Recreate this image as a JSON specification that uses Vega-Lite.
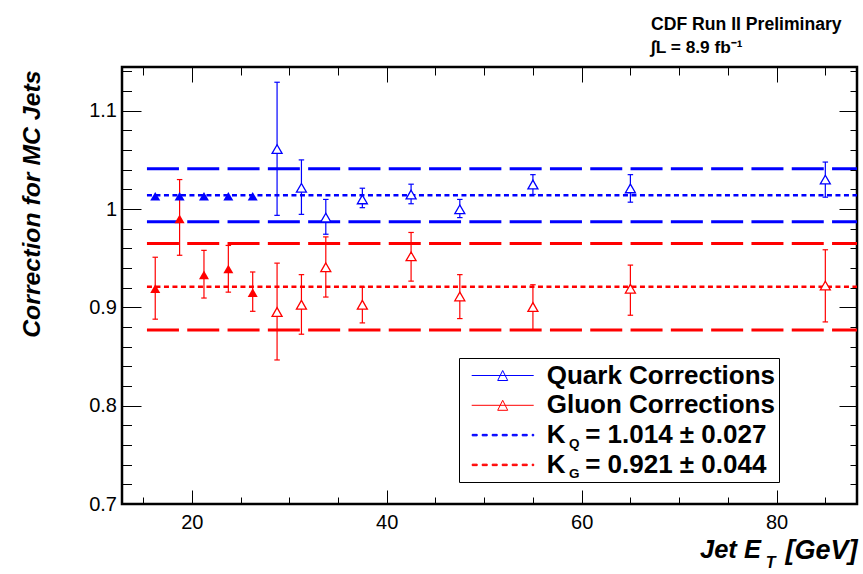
{
  "$schema": "https://vega.github.io/schema/vega-lite/v6.json",
  "width": 735,
  "height": 437,
  "autosize": "none",
  "padding": {"left": 122, "top": 67, "right": 6, "bottom": 70},
  "background": "white",
  "title": {
    "text": "CDF Run II Preliminary",
    "subtitle": "∫L = 8.9 fb⁻¹",
    "anchor": "start",
    "frame": "group",
    "dx": 529,
    "offset": 10,
    "font": "Liberation Sans",
    "fontSize": 17.6,
    "fontWeight": "bold",
    "color": "black",
    "subtitleFont": "Liberation Sans",
    "subtitleFontSize": 17.3,
    "subtitleFontWeight": "bold",
    "subtitleColor": "black",
    "subtitlePadding": 6
  },
  "datasets": {
    "bands": [
      {"y": 1.041, "x1": 15.4, "x2": 88.25, "series": "Quark Corrections"},
      {"y": 0.987, "x1": 15.4, "x2": 88.25, "series": "Quark Corrections"},
      {"y": 0.965, "x1": 15.4, "x2": 88.25, "series": "Gluon Corrections"},
      {"y": 0.877, "x1": 15.4, "x2": 88.25, "series": "Gluon Corrections"}
    ],
    "kfit": [
      {"y": 1.014, "x1": 15.4, "x2": 88.25, "series": "K\u00a0\u00a0\u2009= 1.014 ± 0.027"},
      {"y": 0.921, "x1": 15.4, "x2": 88.25, "series": "K\u00a0\u00a0\u2009= 0.921 ± 0.044"}
    ],
    "pts": [
      {"et": 16.25, "corr": 1.013, "lo": null, "hi": null, "series": "Quark Corrections", "range": "low"},
      {"et": 18.75, "corr": 1.013, "lo": null, "hi": null, "series": "Quark Corrections", "range": "low"},
      {"et": 21.25, "corr": 1.013, "lo": null, "hi": null, "series": "Quark Corrections", "range": "low"},
      {"et": 23.75, "corr": 1.013, "lo": null, "hi": null, "series": "Quark Corrections", "range": "low"},
      {"et": 26.25, "corr": 1.013, "lo": null, "hi": null, "series": "Quark Corrections", "range": "low"},
      {"et": 16.25, "corr": 0.919, "lo": 0.888, "hi": 0.951, "series": "Gluon Corrections", "range": "low"},
      {"et": 18.75, "corr": 0.990, "lo": 0.953, "hi": 1.030, "series": "Gluon Corrections", "range": "low"},
      {"et": 21.25, "corr": 0.933, "lo": 0.9095, "hi": 0.958, "series": "Gluon Corrections", "range": "low"},
      {"et": 23.75, "corr": 0.939, "lo": 0.9155, "hi": 0.963, "series": "Gluon Corrections", "range": "low"},
      {"et": 26.25, "corr": 0.915, "lo": 0.896, "hi": 0.936, "series": "Gluon Corrections", "range": "low"},
      {"et": 28.75, "corr": 1.061, "lo": 0.9936, "hi": 1.129, "series": "Quark Corrections", "range": "high"},
      {"et": 31.25, "corr": 1.0216, "lo": 0.9946, "hi": 1.050, "series": "Quark Corrections", "range": "high"},
      {"et": 33.75, "corr": 0.9913, "lo": 0.9744, "hi": 1.0098, "series": "Quark Corrections", "range": "high"},
      {"et": 37.5, "corr": 1.0098, "lo": 1.0014, "hi": 1.0212, "series": "Quark Corrections", "range": "high"},
      {"et": 42.5, "corr": 1.0148, "lo": 1.0054, "hi": 1.0253, "series": "Quark Corrections", "range": "high"},
      {"et": 47.5, "corr": 0.9997, "lo": 0.9913, "hi": 1.0098, "series": "Quark Corrections", "range": "high"},
      {"et": 55, "corr": 1.025, "lo": 1.0148, "hi": 1.035, "series": "Quark Corrections", "range": "high"},
      {"et": 65, "corr": 1.021, "lo": 1.007, "hi": 1.035, "series": "Quark Corrections", "range": "high"},
      {"et": 85, "corr": 1.030, "lo": 1.0121, "hi": 1.0478, "series": "Quark Corrections", "range": "high"},
      {"et": 28.75, "corr": 0.8953, "lo": 0.8465, "hi": 0.945, "series": "Gluon Corrections", "range": "high"},
      {"et": 31.25, "corr": 0.9027, "lo": 0.8727, "hi": 0.9333, "series": "Gluon Corrections", "range": "high"},
      {"et": 33.75, "corr": 0.9408, "lo": 0.9105, "hi": 0.9717, "series": "Gluon Corrections", "range": "high"},
      {"et": 37.5, "corr": 0.9027, "lo": 0.8842, "hi": 0.9206, "series": "Gluon Corrections", "range": "high"},
      {"et": 42.5, "corr": 0.9519, "lo": 0.9267, "hi": 0.9762, "series": "Gluon Corrections", "range": "high"},
      {"et": 47.5, "corr": 0.9111, "lo": 0.8886, "hi": 0.9333, "series": "Gluon Corrections", "range": "high"},
      {"et": 55, "corr": 0.9004, "lo": 0.8768, "hi": 0.923, "series": "Gluon Corrections", "range": "high"},
      {"et": 65, "corr": 0.919, "lo": 0.892, "hi": 0.943, "series": "Gluon Corrections", "range": "high"},
      {"et": 85, "corr": 0.9222, "lo": 0.8852, "hi": 0.9586, "series": "Gluon Corrections", "range": "high"}
    ]
  },
  "resolve": {"axis": {"x": "independent", "y": "independent"}},
  "layer": [
    {
      "data": {"name": "bands"},
      "mark": {"type": "rule", "strokeDash": [32, 8.3], "strokeWidth": 3},
      "encoding": {
        "x": {"field": "x1", "type": "quantitative",
          "scale": {"domain": [12.84, 88.25], "nice": false, "zero": false},
          "axis": {"orient": "bottom", "values": [20, 40, 60, 80], "tickSize": -14, "labelPadding": 22, "format": "d",
            "title": "Jet E", "titleFontSize": 25.5, "titleX": 577.5, "titleY": 53.6, "titleAlign": "left", "titleBaseline": "alphabetic", "titleAngle": 0}},
        "x2": {"field": "x2"},
        "y": {"field": "y", "type": "quantitative",
          "scale": {"domain": [0.7, 1.1445], "nice": false, "zero": false},
          "axis": {"orient": "left", "values": [0.7, 0.8, 0.9, 1, 1.1], "tickSize": -19, "labelPadding": 24.5, "format": "~g",
            "title": "Correction for MC Jets", "titleFontSize": 24.8, "titleAngle": -90, "titleX": -82.5, "titleY": 3, "titleAlign": "right", "titleBaseline": "alphabetic"}},
        "color": {"field": "series", "type": "nominal",
          "scale": {"domain": ["Quark Corrections", "Gluon Corrections", "K\u00a0\u00a0\u2009= 1.014 ± 0.027", "K\u00a0\u00a0\u2009= 0.921 ± 0.044"],
                    "range": ["#0000ff", "#ff0000", "#0000ff", "#ff0000"]},
          "legend": {
            "orient": "none", "legendX": 337, "legendY": 291, "title": null,
            "fillColor": "white", "strokeColor": "black",
            "padding": 4, "rowPadding": 2.8,
            "labelFont": "Liberation Sans", "labelFontSize": 26, "labelFontWeight": "bold", "labelColor": "black", "labelLimit": 500,
            "labelOffset": 30.5, "symbolOffset": 26.2, "symbolSize": 676, "symbolStrokeWidth": 1,
            "symbolFillColor": "transparent",
            "labelExpr": "datum.value == 'Quark Corrections' ? datum.value + '\u00a0\u00a0\u00a0\u00a0\u00a0' : datum.value",
            "encode": {"symbols": {"update": {
              "shape": {"signal": "indexof(datum.value, 'K') === 0 ? 'M-2.346,-0.058H-1.962V0.058H-2.346ZM-1.577,-0.058H-1.192V0.058H-1.577ZM-0.808,-0.058H-0.423V0.058H-0.808ZM-0.038,-0.058H0.346V0.058H-0.038ZM0.731,-0.058H1.115V0.058H0.731ZM1.5,-0.058H1.885V0.058H1.5ZM2.269,-0.058H2.385V0.058H2.269Z' : 'M-2.385,0H2.385M-0.385,0.385L0,-0.385M0,-0.385L0.385,0.385M0.385,0.385L-0.385,0.385'"},
              "fill": {"value": "transparent"},
              "stroke": {"scale": "color", "field": "value"},
              "opacity": {"value": 1}
            }}}
          }}
      }
    },
    {
      "data": {"name": "kfit"},
      "mark": {"type": "rule", "strokeDash": [5, 3.5], "strokeWidth": 2.4},
      "encoding": {
        "x": {"field": "x1", "type": "quantitative",
          "axis": {"orient": "top", "values": [20, 40, 60, 80], "tickSize": -15, "labels": false,
            "title": "[GeV]", "titleFontSize": 27, "titleX": 735, "titleY": 491, "titleAlign": "right", "titleBaseline": "alphabetic", "titleAngle": 0}},
        "x2": {"field": "x2"},
        "y": {"field": "y", "type": "quantitative",
          "axis": {"orient": "right", "values": [0.8, 0.9, 1, 1.1], "tickSize": -18, "labels": false, "zindex": 1,
            "title": "Q", "titleFontSize": 13.5, "titleFontStyle": "normal", "titleAngle": 0, "titleX": -288.4, "titleY": 380, "titleAlign": "left", "titleBaseline": "alphabetic"}},
        "color": {"field": "series", "type": "nominal"}
      }
    },
    {
      "data": {"name": "pts"},
      "transform": [{"filter": "datum.lo != null"}],
      "mark": {"type": "rule", "strokeWidth": 1.2},
      "encoding": {
        "x": {"field": "et", "type": "quantitative",
          "axis": {"orient": "bottom", "values": [15, 25, 30, 35, 45, 50, 55, 65, 70, 75, 85], "tickSize": -7, "labels": false,
            "title": "T", "titleFontSize": 16, "titleX": 643.3, "titleY": 63.6, "titleAlign": "left", "titleBaseline": "alphabetic", "titleAngle": 0}},
        "y": {"field": "lo", "type": "quantitative",
          "axis": {"orient": "left", "values": [0.72, 0.74, 0.76, 0.78, 0.82, 0.84, 0.86, 0.88, 0.92, 0.94, 0.96, 0.98, 1.02, 1.04, 1.06, 1.08, 1.12, 1.14], "tickSize": -9.5, "labels": false, "title": null}},
        "y2": {"field": "hi"},
        "color": {"field": "series", "type": "nominal", "legend": null}
      }
    },
    {
      "data": {"name": "pts"},
      "transform": [{"filter": "datum.lo != null"}, {"fold": ["lo", "hi"], "as": ["end", "yv"]}],
      "mark": {"type": "point", "shape": "stroke", "size": 30, "strokeWidth": 1.2, "filled": false, "opacity": 1},
      "encoding": {
        "x": {"field": "et", "type": "quantitative",
          "axis": {"orient": "top", "values": [15, 25, 30, 35, 45, 50, 55, 65, 70, 75, 85], "tickSize": -8, "labels": false, "title": null}},
        "y": {"field": "yv", "type": "quantitative",
          "axis": {"orient": "right", "values": [0.72, 0.74, 0.76, 0.78, 0.82, 0.84, 0.86, 0.88, 0.92, 0.94, 0.96, 0.98, 1.02, 1.04, 1.06, 1.08, 1.12, 1.14], "tickSize": -7, "labels": false, "zindex": 1,
            "title": "G", "titleFontSize": 13.5, "titleFontStyle": "normal", "titleAngle": 0, "titleX": -288.4, "titleY": 410, "titleAlign": "left", "titleBaseline": "alphabetic"}},
        "color": {"field": "series", "type": "nominal", "legend": null}
      }
    },
    {
      "data": {"name": "pts"},
      "transform": [{"filter": "datum.range == 'high'"}],
      "mark": {"type": "point", "shape": "triangle-up", "size": 100, "strokeWidth": 1.3, "filled": false, "fill": "white", "fillOpacity": 1, "opacity": 1},
      "encoding": {
        "x": {"field": "et", "type": "quantitative", "axis": null},
        "y": {"field": "corr", "type": "quantitative", "axis": null},
        "color": {"field": "series", "type": "nominal", "legend": null}
      }
    },
    {
      "data": {"name": "pts"},
      "transform": [{"filter": "datum.range == 'low'"}],
      "mark": {"type": "point", "shape": "triangle-up", "size": 100, "filled": true, "opacity": 1},
      "encoding": {
        "x": {"field": "et", "type": "quantitative", "axis": null},
        "y": {"field": "corr", "type": "quantitative", "axis": null},
        "color": {"field": "series", "type": "nominal", "legend": null}
      }
    }
  ],
  "config": {
    "font": "Liberation Sans",
    "view": {"stroke": "black", "strokeWidth": 2.5},
    "axis": {
      "domain": false, "grid": false, "tickColor": "black", "tickWidth": 1,
      "labelFont": "Liberation Sans", "labelFontSize": 20, "labelColor": "black", "labelFlush": false, "labelOverlap": false,
      "titleFont": "Liberation Sans", "titleFontWeight": "bold", "titleFontStyle": "italic", "titleColor": "black"
    }
  }
}
